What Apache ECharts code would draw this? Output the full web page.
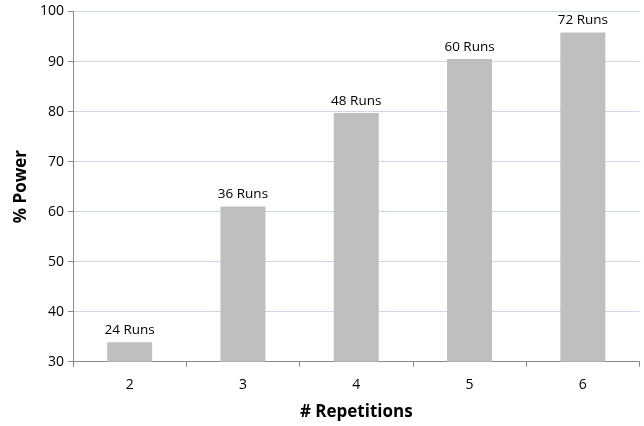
<!DOCTYPE html>
<html><head><meta charset="utf-8">
<script src="https://cdn.jsdelivr.net/npm/echarts@6/dist/echarts.min.js"></script>
<style>html,body{margin:0;padding:0;background:#fff}#c{width:644px;height:426px}</style>
</head><body><div id="c"></div>
<script>
const categories = ['2','3','4','5','6'];
const powerValues = [33.9, 61.0, 79.7, 90.5, 95.8];
const runLabels = ['24 Runs','36 Runs','48 Runs','60 Runs','72 Runs'];
const yTicks = {min:30, max:100, interval:10};

const font = 'Open Sans';
const chart = echarts.init(document.getElementById('c'), null, {renderer:'canvas'});
chart.setOption({
  animation:false,
  grid:{left:73, right:4.5, top:11.5, bottom:64.3, containLabel:false, outerBoundsMode:'none'},
  xAxis:{
    type:'category', data:categories,
    name:'# Repetitions', nameLocation:'middle', nameGap:42, nameMoveOverlap:false,
    nameTextStyle:{fontFamily:font, fontWeight:'bold', fontSize:17, color:'#000'},
    axisLine:{lineStyle:{color:'#888', width:1}},
    axisTick:{show:true, length:5, lineStyle:{color:'#888'}},
    axisLabel:{fontFamily:font, fontSize:14, color:'#000', margin:16}
  },
  yAxis:{
    type:'value', min:yTicks.min, max:yTicks.max, interval:yTicks.interval,
    name:'% Power', nameLocation:'middle', nameGap:52, nameMoveOverlap:false,
    nameTextStyle:{fontFamily:font, fontWeight:'bold', fontSize:17, color:'#000', verticalAlign:'middle'},
    axisLine:{show:true, lineStyle:{color:'#888', width:1}},
    axisTick:{show:true, length:5, inside:false, lineStyle:{color:'#888'}},
    axisLabel:{fontFamily:font, fontSize:14, color:'#000', margin:9},
    splitLine:{lineStyle:{color:'#ccd7ea', width:1}}
  },
  series:[{
    type:'bar', data:powerValues, barWidth:45,
    itemStyle:{color:'#bfbfbf'},
    label:{show:true, position:'top', distance:5, fontFamily:font, fontSize:13.5, color:'#000',
      formatter:p=>runLabels[p.dataIndex]}
  }]
});
</script></body></html>
